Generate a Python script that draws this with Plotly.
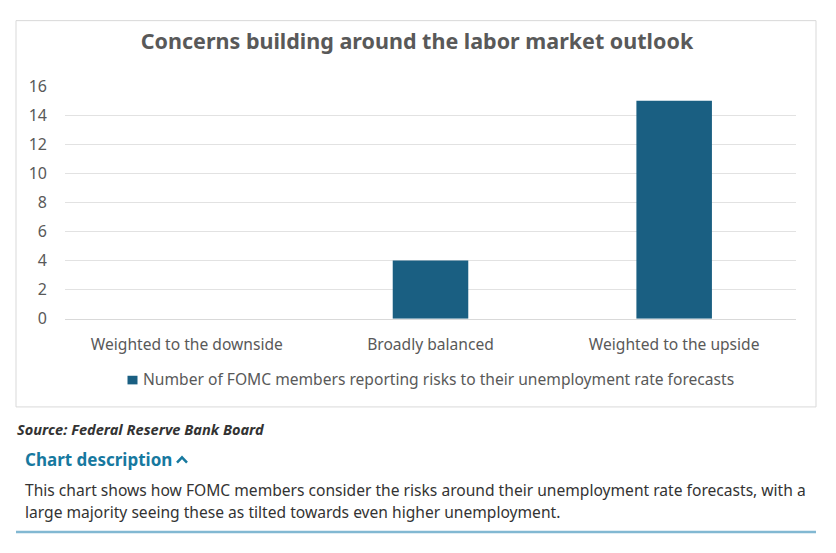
import plotly.graph_objects as go

# data
categories = ["Weighted to the downside", "Broadly balanced", "Weighted to the upside"]
members = [0, 4, 15]
series_name = "Number of FOMC members reporting risks to their unemployment rate forecasts"
y_ticks = [0, 2, 4, 6, 8, 10, 12, 14, 16]

# the page body has an 8px margin, so the figure is 16px smaller than the window
W, H = 820, 537
OFF = 8
FONT = "Noto Sans"
GREY = "#595959"
TEAL = "#17799f"
BAR = "#1a5f82"


def px(x):
    return (x - OFF) / W


def py(y):
    return 1 - (y - OFF) / H


fig = go.Figure()
fig.add_trace(go.Bar(
    x=categories, y=members, name=series_name,
    marker=dict(color=BAR, line=dict(width=0)),
    showlegend=False,
))

fig.update_layout(
    width=W, height=H,
    margin=dict(l=0, r=0, t=0, b=0),
    paper_bgcolor="white", plot_bgcolor="white",
    font=dict(family=FONT, color=GREY),
    bargap=0.69,
    title=dict(
        text="<b>Concerns building around the labor market outlook</b>",
        x=px(417), y=py(41), xanchor="center", yanchor="middle",
        font=dict(family=FONT, size=21.5, color=GREY),
    ),
    xaxis=dict(
        domain=[px(65), px(796)],
        showgrid=False, showline=True, linecolor="#d9d9d9", linewidth=1,
        ticks="", tickfont=dict(size=15.6, color=GREY),
        ticklabelstandoff=12,
    ),
    yaxis=dict(
        domain=[py(320.5), py(78)],
        range=[0, 16], tickvals=y_ticks,
        showgrid=True, gridcolor="#e2e2e2", gridwidth=1,
        zeroline=False, showline=False, ticks="",
        tickfont=dict(size=16, color=GREY),
        ticklabelstandoff=17,
    ),
)

# legend swatch and label
fig.add_shape(type="rect", xref="paper", yref="paper",
              x0=px(127.5), x1=px(137.5), y0=py(389), y1=py(380),
              fillcolor=BAR, line=dict(width=0))
fig.add_annotation(text=series_name,
                   xref="paper", yref="paper", x=px(141), y=py(383),
                   xanchor="left", yanchor="middle", showarrow=False,
                   font=dict(family=FONT, size=15.6, color=GREY))

# chart frame
fig.add_shape(type="rect", xref="paper", yref="paper",
              x0=px(16), x1=px(816), y0=py(412.5), y1=py(9.7),
              line=dict(color="#d9d9d9", width=1), layer="below")

# text below the chart
fig.add_annotation(text="<b><i>Source: Federal Reserve Bank Board</i></b>",
                   xref="paper", yref="paper", x=px(15), y=py(436),
                   xanchor="left", yanchor="middle", showarrow=False,
                   font=dict(family=FONT, size=14.6, color="#333333"))
fig.add_annotation(text="<b>Chart description</b>",
                   xref="paper", yref="paper", x=px(23), y=py(467),
                   xanchor="left", yanchor="middle", showarrow=False,
                   font=dict(family=FONT, size=17, color=TEAL))
fig.add_shape(type="path", xref="paper", yref="paper",
              path=f"M {px(177)},{py(470.5)} L {px(182)},{py(465)} L {px(187)},{py(470.5)}",
              line=dict(color=TEAL, width=2.5))
fig.add_annotation(text="This chart shows how FOMC members consider the risks around their unemployment rate forecasts, with a",
                   xref="paper", yref="paper", x=px(23), y=py(499),
                   xanchor="left", yanchor="middle", showarrow=False,
                   font=dict(family=FONT, size=15.6, color="#333333"))
fig.add_annotation(text="large majority seeing these as tilted towards even higher unemployment.",
                   xref="paper", yref="paper", x=px(23), y=py(522),
                   xanchor="left", yanchor="middle", showarrow=False,
                   font=dict(family=FONT, size=15.6, color="#333333"))
fig.add_shape(type="line", xref="paper", yref="paper",
              x0=px(16), x1=px(816), y0=py(543), y1=py(543),
              line=dict(color="#82b8d2", width=2.5))

fig.write_html("out.html")
